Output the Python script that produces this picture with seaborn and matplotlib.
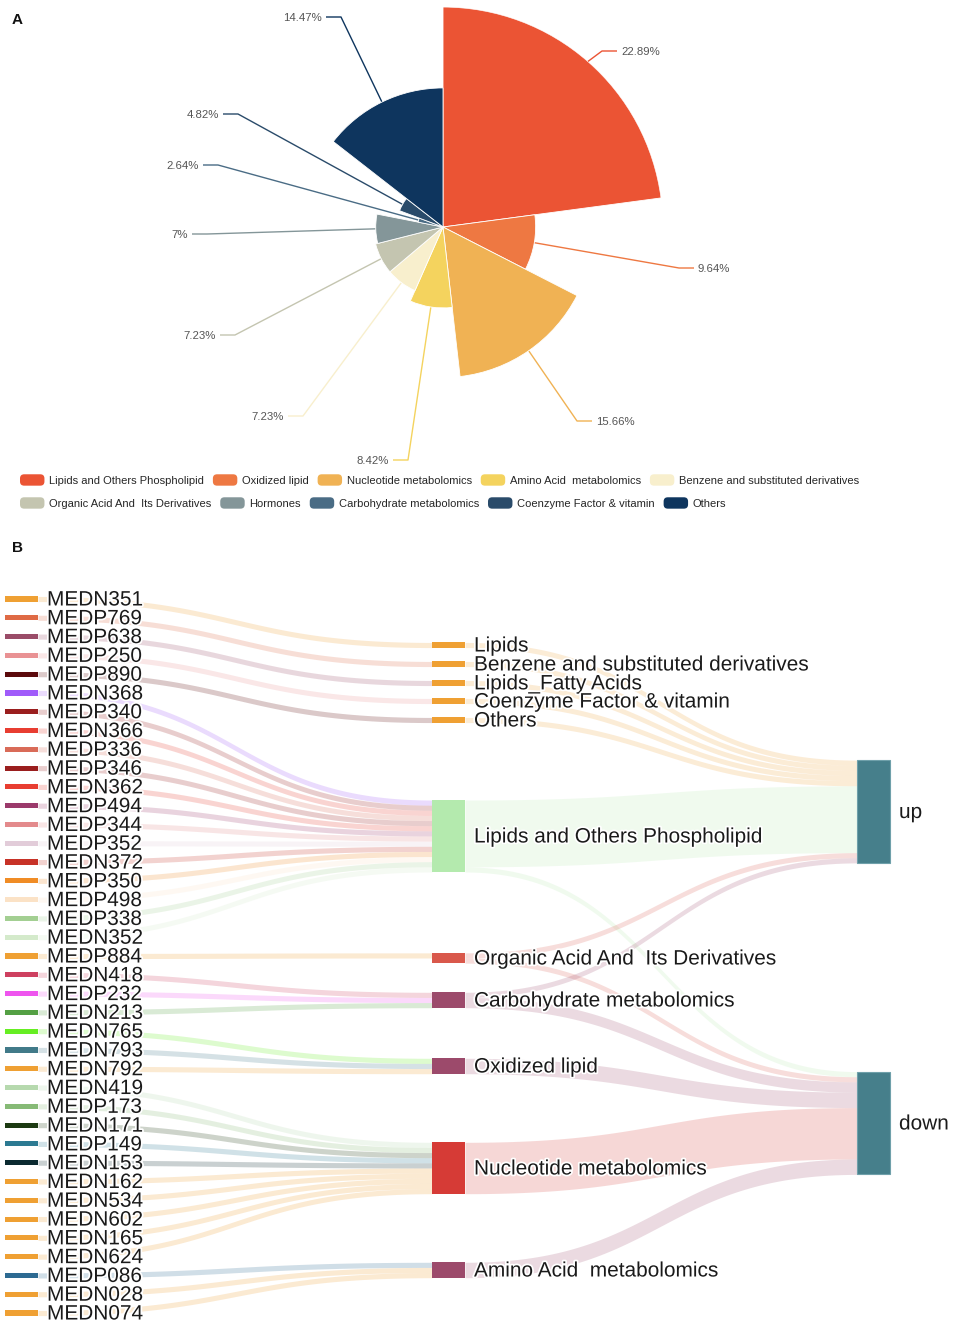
import numpy as np
import matplotlib
matplotlib.use("Agg")
import matplotlib.pyplot as plt
import matplotlib.patheffects as pe
from matplotlib.patches import Rectangle, FancyBboxPatch, Patch
from matplotlib.legend_handler import HandlerPatch
import seaborn as sns

# ---------------- panel A : rose chart ----------------
pie_labels = ["Lipids and Others Phospholipid", "Oxidized lipid", "Nucleotide metabolomics",
              "Amino Acid  metabolomics", "Benzene and substituted derivatives",
              "Organic Acid And  Its Derivatives", "Hormones", "Carbohydrate metabolomics",
              "Coenzyme Factor & vitamin", "Others"]
pie_values = [22.89, 9.64, 15.66, 8.42, 7.23, 7.23, 7.0, 2.64, 4.82, 14.47]
pie_text = ["22.89%", "9.64%", "15.66%", "8.42%", "7.23%", "7.23%", "7%", "2.64%", "4.82%", "14.47%"]
pie_colors = ["#EB5434", "#EE7842", "#F0B254", "#F4D35E", "#F8EFCD",
              "#C4C5B0", "#849699", "#4A6C85", "#2A4B6A", "#0E355E"]

# ---------------- panel B : sankey ----------------
metabolites = ["MEDN351", "MEDP769", "MEDP638", "MEDP250", "MEDP890", "MEDN368", "MEDP340",
               "MEDN366", "MEDP336", "MEDP346", "MEDN362", "MEDP494", "MEDP344", "MEDP352",
               "MEDN372", "MEDP350", "MEDP498", "MEDP338", "MEDN352", "MEDP884", "MEDN418",
               "MEDP232", "MEDN213", "MEDN765", "MEDN793", "MEDN792", "MEDN419", "MEDP173",
               "MEDN171", "MEDP149", "MEDN153", "MEDN162", "MEDN534", "MEDN602", "MEDN165",
               "MEDN624", "MEDP086", "MEDN028", "MEDN074"]
classes = ["Lipids", "Benzene and substituted derivatives", "Lipids_Fatty Acids",
           "Coenzyme Factor & vitamin", "Others", "Lipids and Others Phospholipid",
           "Organic Acid And  Its Derivatives", "Carbohydrate metabolomics", "Oxidized lipid",
           "Nucleotide metabolomics", "Amino Acid  metabolomics"]
# index into classes for every metabolite
metabolite_class = [0, 1, 2, 3, 4] + [5] * 14 + [6] + [7] * 3 + [8] * 3 + [9] * 10 + [10] * 3
regulation = ["up", "down"]
class_up = [1, 1, 1, 1, 1, 13, 1, 1, 0, 0, 0]
class_down = [0, 0, 0, 0, 0, 1, 1, 2, 3, 10, 3]

metabolite_colors = ["#EFA033", "#DF6A45", "#9A4C68", "#E99294", "#5B0A0C", "#A05BFA", "#9A1E1E",
                     "#E83D31", "#D96B58", "#9A1E1E", "#E83D31", "#9B3A6B", "#E38A8C", "#E2CCD9",
                     "#C73227", "#F08C25", "#FBE2C6", "#A3CF92", "#D4EACB", "#EFA033", "#CE4060",
                     "#EE55EE", "#54A044", "#66EE22", "#417A89", "#EFA033", "#B6D9AE", "#86BA76",
                     "#1C3A12", "#2C7A92", "#0B2A30", "#EFA033", "#EFA033", "#EFA033", "#EFA033",
                     "#EFA033", "#2D6A92", "#EFA033", "#EFA033"]
class_colors = ["#EFA033"] * 5 + ["#B4EAAE", "#D9584B", "#9C4A6B", "#9C4A6B", "#D63B36", "#9C4A6B"]
regulation_color = "#467F8B"

sns.set_theme(style="white")
plt.rcParams["font.family"] = ["Liberation Sans", "DejaVu Sans"]

W, H = 954, 1339
fig = plt.figure(figsize=(W / 100, H / 100), dpi=100)

# overlay axes in pixel units (y down)
ax = fig.add_axes([0, 0, 1, 1])
ax.set_xlim(0, W)
ax.set_ylim(H, 0)
ax.axis("off")

# rose chart on a polar axes
cx, cy, R = 443, 227, 220
pax = fig.add_axes([(cx - R) / W, 1 - (cy + R) / H, 2 * R / W, 2 * R / H], projection="polar")
pax.set_theta_zero_location("N")
pax.set_theta_direction(-1)
widths = np.array(pie_values) / sum(pie_values) * 2 * np.pi
starts = np.concatenate([[0], np.cumsum(widths)[:-1]])
mids = starts + widths / 2
pax.bar(mids, pie_values, width=widths, bottom=0, color=pie_colors,
        edgecolor="white", linewidth=0.6, align="center")
pax.set_ylim(0, max(pie_values))
pax.axis("off")

# leader lines: elbow point (x, y) and side of the label
label_elbows = [(602, 51, 1), (679, 268, 1), (577, 421, 1), (408, 460, -1), (303, 416, -1),
                (235, 335, -1), (207, 234, -1), (218, 165, -1), (238, 114, -1), (341, 17, -1)]
to_pix = ax.transData.inverted()
for i, (ex, ey, side) in enumerate(label_elbows):
    sx, sy = to_pix.transform(pax.transData.transform((mids[i], pie_values[i])))
    hx = ex + side * 15
    ax.plot([sx, ex, hx], [sy, ey, ey], color=pie_colors[i], lw=1, solid_capstyle="butt")
    ax.text(hx + side * 4, ey + 1, pie_text[i], ha="left" if side > 0 else "right",
            va="center", fontsize=8.2, color="#555555")

# legend rows
def rounded(legend, orig_handle, xdescent, ydescent, width, height, fontsize):
    return FancyBboxPatch((-xdescent, -ydescent), width, height,
                          boxstyle="round,pad=0,rounding_size=3")

for row, yy in enumerate([480, 503]):
    handles = [Patch(facecolor=pie_colors[k], edgecolor="none", label=pie_labels[k])
               for k in range(row * 5, row * 5 + 5)]
    fig.legend(handles=handles, loc="center left", bbox_to_anchor=(20 / W, 1 - yy / H),
               ncol=5, frameon=False, fontsize=8.0, handlelength=2.2, handleheight=1.2,
               handletextpad=0.42, columnspacing=0.8, borderpad=0, borderaxespad=0,
               handler_map={Patch: HandlerPatch(patch_func=rounded)})

ax.text(12, 20, "A", fontsize=11, fontweight="bold", va="center", color="#111111")
ax.text(12, 548, "B", fontsize=11, fontweight="bold", va="center", color="#111111")

# ---------------- sankey layout ----------------
unit = 5.14
left_x = (5, 38)
mid_x = (432, 465)
right_x = (857, 890)
left_first, left_step = 599, 18.79
mid_centers = [645, 664, 683, 701, 720, 836, 958, 1000, 1066, 1168, 1270]
right_centers = [811.5, 1123]

n_left = len(metabolites)
left_cy = left_first + np.arange(n_left) * left_step
mid_in = np.bincount(metabolite_class, minlength=len(classes))
mid_out = np.array(class_up) + np.array(class_down)
mid_h = np.maximum(mid_in, mid_out) * unit
mid_top = np.array(mid_centers) - mid_h / 2
right_tot = [sum(class_up), sum(class_down)]
right_top = [c - t * unit / 2 for c, t in zip(right_centers, right_tot)]


def ribbon(x0, y0, x1, y1, w, color, alpha):
    t = np.linspace(0, 1, 80)
    xm = (x0 + x1) / 2
    bx = (1 - t) ** 3 * x0 + 3 * (1 - t) ** 2 * t * xm + 3 * (1 - t) * t ** 2 * xm + t ** 3 * x1
    by = (1 - t) ** 3 * y0 + 3 * (1 - t) ** 2 * t * y0 + 3 * (1 - t) * t ** 2 * y1 + t ** 3 * y1
    ax.fill_between(bx, by, by + w, color=color, alpha=alpha, lw=0, zorder=1)


# metabolite -> class links
mid_fill = np.zeros(len(classes))
for i in range(n_left):
    c = metabolite_class[i]
    y1 = mid_top[c] + mid_fill[c]
    mid_fill[c] += unit
    ribbon(left_x[1], left_cy[i] - unit / 2, mid_x[0], y1, unit, metabolite_colors[i], 0.22)

# class -> regulation links
right_fill = [0.0, 0.0]
for c in range(len(classes)):
    out_fill = 0.0
    for r, vals in enumerate([class_up, class_down]):
        v = vals[c]
        if v == 0:
            continue
        w = v * unit
        ribbon(mid_x[1], mid_top[c] + out_fill, right_x[0], right_top[r] + right_fill[r],
               w, class_colors[c], 0.2)
        out_fill += w
        right_fill[r] += w

halo = [pe.withStroke(linewidth=2.5, foreground="white")]

# nodes + labels
for i in range(n_left):
    ax.add_patch(Rectangle((left_x[0], left_cy[i] - unit / 2), left_x[1] - left_x[0], unit,
                           color=metabolite_colors[i], lw=0, zorder=2))
    ax.text(47, left_cy[i] + 1, metabolites[i], fontsize=15, va="center", ha="left",
            color="#1a1a1a", zorder=3, path_effects=halo)

for c in range(len(classes)):
    ax.add_patch(Rectangle((mid_x[0], mid_top[c]), mid_x[1] - mid_x[0], mid_h[c],
                           color=class_colors[c], lw=0, zorder=2))
    ax.text(474, mid_centers[c] + 1, classes[c], fontsize=15, va="center", ha="left",
            color="#1a1a1a", zorder=3, path_effects=halo)

for r in range(2):
    ax.add_patch(Rectangle((right_x[0], right_top[r]), right_x[1] - right_x[0],
                           right_tot[r] * unit, facecolor=regulation_color,
                           edgecolor="#6FA0AA", lw=0.8, zorder=2))
    ax.text(899, right_centers[r] + 1, regulation[r], fontsize=15, va="center", ha="left",
            color="#1a1a1a", zorder=3, path_effects=halo)

fig.savefig("out.png", dpi=100)
